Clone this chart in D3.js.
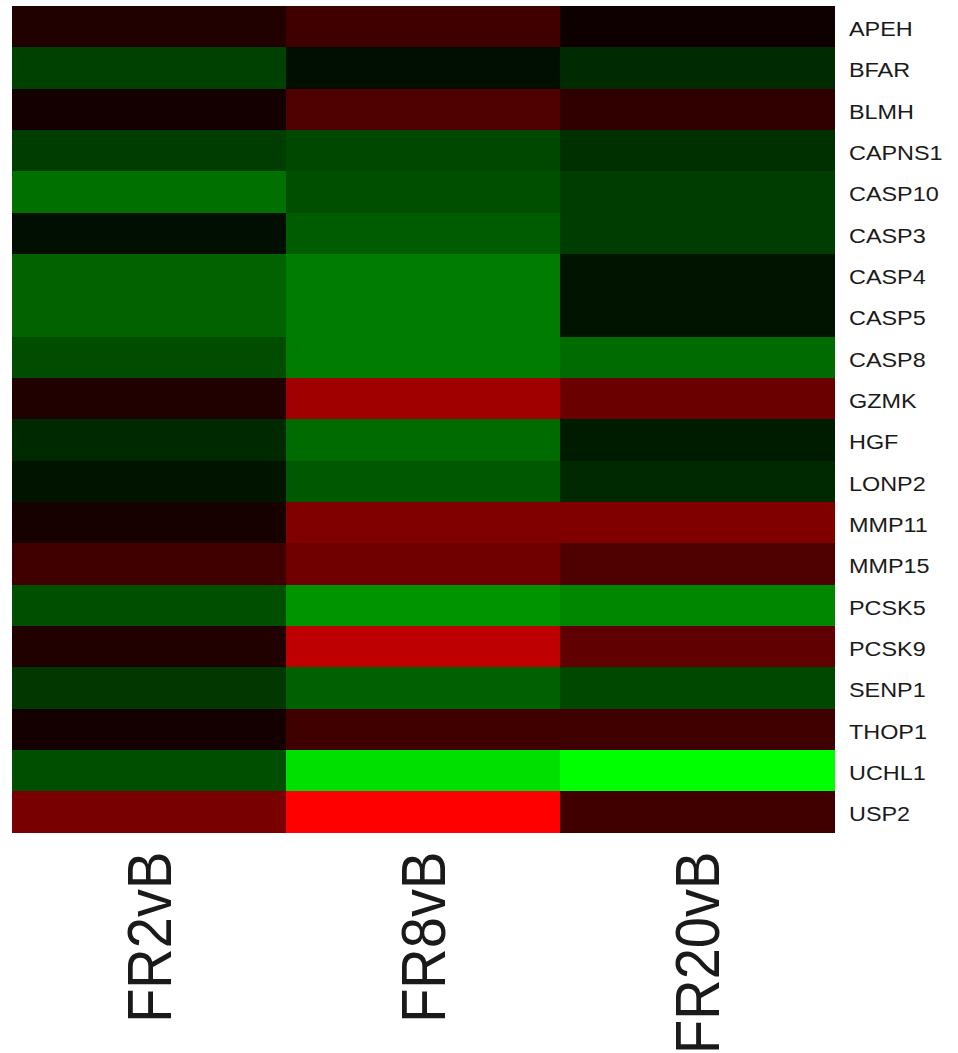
<!DOCTYPE html>
<html>
<head>
<meta charset="utf-8">
<script src="https://cdn.jsdelivr.net/npm/d3@7"></script>
<style>
  html, body { margin: 0; padding: 0; background: #ffffff; }
  svg { display: block; }
  text { font-family: "Liberation Sans", Arial, sans-serif; fill: #1a1a1a; }
</style>
</head>
<body>
<svg id="chart" width="958" height="1053"></svg>
<script>
// Genes (rows, top to bottom) and comparisons (columns)
const genes = ["APEH", "BFAR", "BLMH", "CAPNS1", "CASP10", "CASP3", "CASP4", "CASP5",
  "CASP8", "GZMK", "HGF", "LONP2", "MMP11", "MMP15", "PCSK5", "PCSK9", "SENP1",
  "THOP1", "UCHL1", "USP2"];
const comparisons = ["FR2vB", "FR8vB", "FR20vB"];

// Scaled expression change per comparison (positive = up / red, negative = down / green)
const FR2vB  = [0.13, -0.25, 0.08, -0.24, -0.44, -0.06, -0.39, -0.39, -0.30, 0.13,
  -0.16, -0.08, 0.09, 0.25, -0.31, 0.13, -0.22, 0.08, -0.31, 0.47];
const FR8vB  = [0.25, -0.06, 0.31, -0.28, -0.31, -0.36, -0.49, -0.49, -0.49, 0.63,
  -0.42, -0.35, 0.50, 0.44, -0.58, 0.75, -0.38, 0.25, -0.88, 1.00];
const FR20vB = [0.06, -0.17, 0.19, -0.19, -0.24, -0.24, -0.08, -0.08, -0.42, 0.42,
  -0.11, -0.16, 0.50, 0.31, -0.53, 0.38, -0.28, 0.25, -1.00, 0.25];

const seriesValues = [FR2vB, FR8vB, FR20vB];

const cells = [];
comparisons.forEach((c, j) => {
  genes.forEach((g, i) => cells.push({ gene: g, comparison: c, value: seriesValues[j][i] }));
});

const svg = d3.select("#chart");
const plot = { left: 12, right: 834, top: 6, bottom: 832.7 };

const x = d3.scaleBand().domain(comparisons).range([plot.left, plot.right]).padding(0);
const y = d3.scaleBand().domain(genes).range([plot.top, plot.bottom]).padding(0);
const color = d3.scaleLinear()
  .domain([-1, 0, 1])
  .range(["#00ff00", "#000000", "#ff0000"])
  .clamp(true);

svg.append("g")
  .selectAll("rect")
  .data(cells)
  .join("rect")
  .attr("x", d => x(d.comparison))
  .attr("y", d => y(d.gene))
  .attr("width", x.bandwidth() + 0.5)
  .attr("height", y.bandwidth() + 0.5)
  .attr("fill", d => color(d.value))
  .attr("shape-rendering", "crispEdges");

// Gene labels on the right (slightly wide lettering)
const textStretch = 1.2;
const rowAxis = d3.axisRight(y).tickSize(0).tickPadding(0);
const rowG = svg.append("g")
  .attr("transform", `translate(${plot.right + 15},0)`)
  .call(rowAxis);
rowG.select(".domain").remove();
rowG.selectAll("text")
  .attr("x", 0)
  .attr("dy", "0.48em")
  .style("font-size", "19.5px")
  .attr("fill", "#1a1a1a")
  .attr("transform", `scale(${textStretch},1)`)
  .style("font-family", "'Liberation Sans', Arial, sans-serif");

// Comparison labels below, rotated
const colAxis = d3.axisBottom(x).tickSize(0).tickPadding(0);
const colG = svg.append("g")
  .attr("transform", `translate(0,${plot.bottom})`)
  .call(colAxis);
colG.select(".domain").remove();
colG.selectAll(".tick").each(function (d) {
  const cx = x(d) + x.bandwidth() / 2;
  d3.select(this).attr("transform", `translate(${cx},0)`);
  d3.select(this).select("text")
    .attr("x", 0).attr("y", 0).attr("dy", null)
    .attr("text-anchor", "end")
    .attr("dominant-baseline", "central")
    .attr("fill", "#1a1a1a")
    .style("font-size", "56px")
    .style("font-family", "'Liberation Sans', Arial, sans-serif")
    .attr("transform", `translate(0,19) scale(1.13,1) rotate(-90)`);
});
</script>
</body>
</html>
